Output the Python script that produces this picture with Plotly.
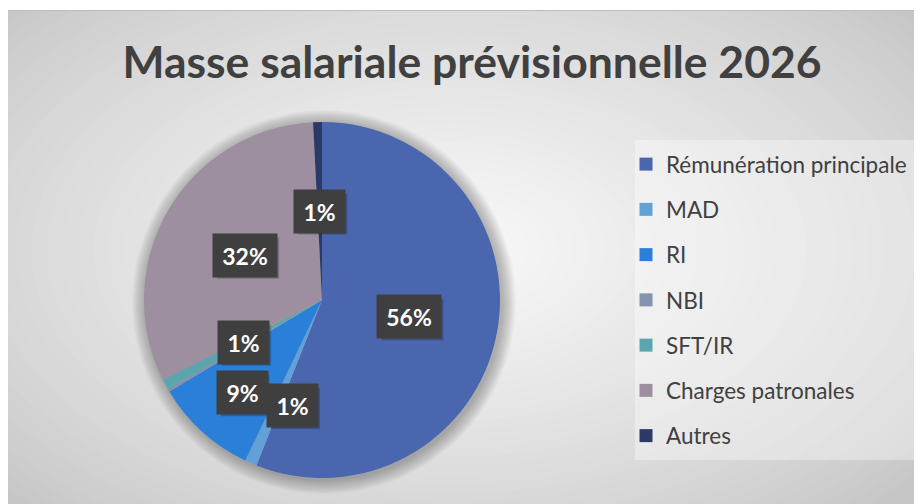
import math
import plotly.graph_objects as go

W, H = 922, 504

# ---- data ----
categories = ["Rémunération principale", "MAD", "RI", "NBI", "SFT/IR", "Charges patronales", "Autres"]
values = [56.0, 1.1, 9.3, 0.3, 0.9, 31.6, 0.8]
show_label = [True, True, True, False, True, True, True]
colors = ["#4A66AE", "#62A0D8", "#2A7FD8", "#8392AE", "#5BA6AE", "#9D8F9F", "#2A3965"]
title_text = "Masse salariale prévisionnelle 2026"

# ---- layout geometry (figure pixels) ----
cx, cy, R = 314, 292, 178
label_shift = {"MAD": (6, -24), "RI": (-20, -27)}


def px_x(x):
    return x / W


def px_y(y):
    return 1 - y / H


fig = go.Figure()

shapes = []
shapes.append(dict(type="rect", xref="paper", yref="paper", x0=0, x1=1, y0=0, y1=1,
                   fillcolor="#c6c6c6", line=dict(width=0), layer="below"))
gx, gy = 442, 242
N = 40
for i in range(N):
    t = 1 - i / N
    rx, ry = 620 * t, 360 * t
    g = min(int(198 + (250 - 198) * (1 - t) ** 0.8), 250)
    shapes.append(dict(type="circle", xref="paper", yref="paper",
                       x0=px_x(gx - rx), x1=px_x(gx + rx), y0=px_y(gy + ry), y1=px_y(gy - ry),
                       fillcolor=f"rgb({g},{g},{g})", line=dict(width=0), layer="below"))
shapes.append(dict(type="rect", xref="paper", yref="paper", x0=0, x1=1, y0=px_y(2), y1=1,
                   fillcolor="white", line=dict(width=0), layer="below"))
shapes.append(dict(type="line", xref="paper", yref="paper", x0=0, x1=1, y0=px_y(2.5), y1=px_y(2.5),
                   line=dict(color="#bdbdbd", width=1), layer="below"))
# legend panel
shapes.append(dict(type="rect", xref="paper", yref="paper", x0=px_x(627), x1=px_x(912),
                   y0=px_y(452), y1=px_y(132),
                   fillcolor="rgba(255,255,255,0.35)", line=dict(width=0), layer="below"))
# pie soft shadow
for k in range(14, 0, -1):
    rr = R + k
    shapes.append(dict(type="circle", xref="paper", yref="paper",
                       x0=px_x(cx + 2 - rr), x1=px_x(cx + 2 + rr),
                       y0=px_y(cy + 2 + rr), y1=px_y(cy + 2 - rr),
                       fillcolor="rgba(0,0,0,0.02)", line=dict(width=0), layer="below"))

fig.add_trace(go.Pie(
    labels=categories, values=values, sort=False, direction="clockwise", rotation=0,
    marker=dict(colors=colors, line=dict(width=0)),
    textinfo="none", showlegend=False, hoverinfo="label+percent",
    domain=dict(x=[px_x(cx - R), px_x(cx + R)], y=[px_y(cy + R), px_y(cy - R)]),
))

for name, col in zip(categories, colors):
    fig.add_trace(go.Scatter(x=[None], y=[None], mode="markers", name=name, legendgroup=name,
                             marker=dict(symbol="square", size=13, color=col)))

total = sum(values)
annotations = []
cum = 0.0
for name, v, show in zip(categories, values, show_label):
    mid = (cum + v / 2) / total * 2 * math.pi
    cum += v
    if not show:
        continue
    f = 0.5
    sx, sy = label_shift.get(name, (0, 0))
    lx = cx + R * f * math.sin(mid) + sx
    ly = cy - R * f * math.cos(mid) - sy
    txt = f"{round(v / total * 100)}%"
    bw = 62 if len(txt) > 2 else 49
    bh = 41
    # drop shadow of the label box
    shapes.append(dict(type="rect", xref="paper", yref="paper",
                       x0=px_x(lx - bw / 2 + 3), x1=px_x(lx + bw / 2 + 3),
                       y0=px_y(ly + bh / 2 + 3), y1=px_y(ly - bh / 2 + 3),
                       fillcolor="rgba(0,0,0,0.22)", line=dict(width=0), layer="above"))
    annotations.append(dict(text=f"<b>{txt}</b>", font=dict(family="Lato", size=23, color="white"),
                            bgcolor="#3f3f3f", xref="paper", yref="paper", x=px_x(lx), y=px_y(ly),
                            showarrow=False, width=bw, height=bh, xanchor="center", yanchor="middle"))

fig.update_layout(
    width=W, height=H, margin=dict(l=0, r=0, t=0, b=0),
    paper_bgcolor="white", plot_bgcolor="rgba(0,0,0,0)",
    title=dict(text=f"<b>{title_text}</b>", x=px_x(464), xanchor="center", y=px_y(54), yanchor="middle",
               font=dict(family="Lato", size=44.5, color="#404040")),
    xaxis=dict(visible=False), yaxis=dict(visible=False),
    legend=dict(x=px_x(618), y=px_y(135), xanchor="left", yanchor="top",
                bgcolor="rgba(0,0,0,0)", tracegroupgap=13,
                font=dict(family="Lato", size=22.5, color="#404040")),
    shapes=shapes, annotations=annotations,
)

fig.write_html("out.html")
